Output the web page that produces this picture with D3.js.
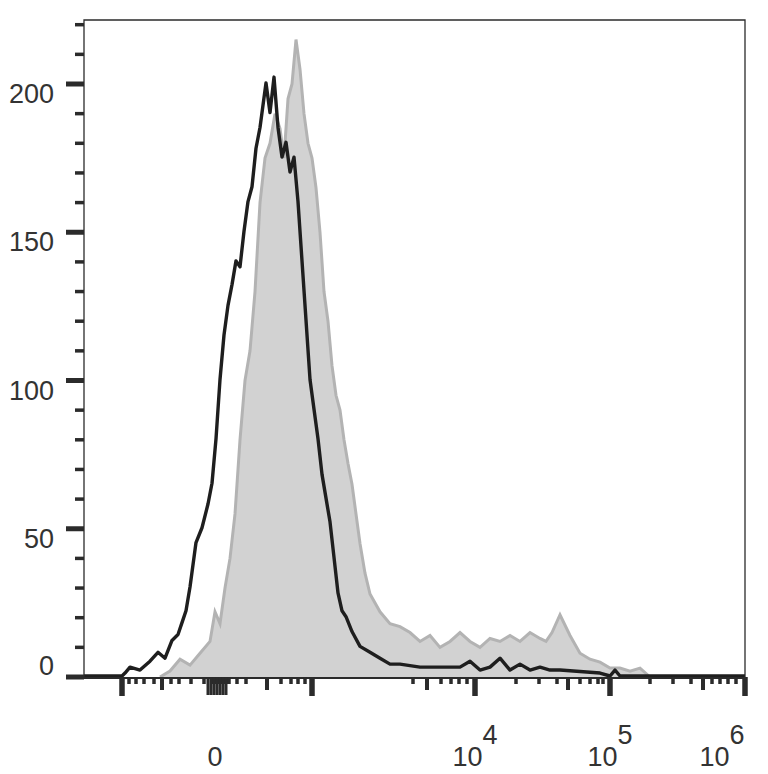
<!DOCTYPE html>
<html><head><meta charset="utf-8">
<script src="https://cdn.jsdelivr.net/npm/d3@7"></script>
<style>body{margin:0;background:#fff}</style>
</head><body>
<svg id="viz" width="768" height="774"></svg>
<script>
// channel positions (0..661 across plot) and event counts
var blackX = [0,38,41,46,56,66,74,81,88,94, 98,102,106,112,118,124,128,132,136,140, 144,148,152,156,160,164,168,172,176,180,
              182,186,190,194,198,202,206,210,214,218, 222,226,230,234,238,242,246,250,254,258, 262,268,276,286,296,306,316,336,356,376,
              386,396,406,416,426,436,446,456,466,476, 516,526,531,536,541,661];
var blackY = [0,0,1,3,2,5,8,6,12,14, 18,22,30,45,50,58,65,80,100,115, 125,132,140,138,150,160,165,178,185,195,
              200,190,202,185,175,180,170,175,160,140, 120,100,90,80,68,60,52,40,28,22, 20,15,10,8,6,4,4,3,3,3,
              5,2,3,6,2,4,2,3,2,2, 1,0,2,0,0,0];
var greyX = [76,86,96,106,116,126,131,136,141,146, 151,156,161,166,171,176,181,186,191,196, 200,204,208,212,216,220,224,228,232,236,
             240,244,248,252,256,260,264,268,272,276, 281,286,296,306,316,326,336,346,356,366, 376,386,396,406,416,426,436,446,456,462,
             468,476,486,496,506,516,526,536,546,556, 566];
var greyY = [0,2,6,4,8,12,22,18,30,40, 55,80,100,110,130,160,175,180,190,185, 175,195,200,215,205,190,180,175,165,150,
             130,120,105,95,90,80,72,65,55,45, 35,28,22,18,17,15,12,14,10,12, 15,12,10,13,12,14,12,15,13,12,
             15,21,14,8,6,5,3,3,2,3, 0];
var yTicks = [0,50,100,150,200];
var xMajor = [38,228,391,526,661];
var xMedium = [78,183,343,484,619];
var xMinor = [45,52,60,70,87,95,107,120,128,131,134,137,140,143,145,153,162,197,207,214,221,329,357,367,375,383,432,455,473,496,506,514,519,566,589,607,628,636,644,652];
var xLabels = [{x:131,t:"0",e:""},{x:391,t:"10",e:"4"},{x:526,t:"10",e:"5"},{x:638,t:"10",e:"6"}];

var m = {left:84, top:20, right:745, bottom:677};
var svg = d3.select("#viz");
var x = d3.scaleLinear().domain([0,661]).range([m.left,m.right]);
var y = d3.scaleLinear().domain([0,200]).range([m.bottom,84]);
var ink = "#2b2b2b";
var font = "Liberation Sans, Arial, sans-serif";

function pairs(xs, ys) { return xs.map(function(v,i){ return [v, ys[i]]; }); }

var grey = pairs(greyX, greyY);
svg.append("path").datum(grey)
    .attr("d", d3.area().x(function(d){return x(d[0]);}).y0(y(0)).y1(function(d){return y(d[1]);}))
    .attr("fill", "#d2d2d2");
svg.append("path").datum(grey)
    .attr("d", d3.line().x(function(d){return x(d[0]);}).y(function(d){return y(d[1]);}))
    .attr("fill", "none").attr("stroke", "#b3b3b3").attr("stroke-width", 3);
svg.append("path").datum(pairs(blackX, blackY))
    .attr("d", d3.line().x(function(d){return x(d[0]);}).y(function(d){return y(d[1]) - 1;}))
    .attr("fill", "none").attr("stroke", "#1e1e1e").attr("stroke-width", 3.4).attr("stroke-linejoin", "round");

// frame
svg.append("path").attr("d", "M" + m.left + "," + m.bottom + "V" + m.top + "H" + m.right + "V" + m.bottom)
    .attr("fill", "none").attr("stroke", ink).attr("stroke-width", 1.3);
svg.append("line").attr("x1", m.left).attr("x2", m.right).attr("y1", m.bottom + 1).attr("y2", m.bottom + 1)
    .attr("stroke", ink).attr("stroke-width", 2);

// y axis
var yMinor = d3.range(0, 221, 10).filter(function(v){ return v % 50 !== 0; });
svg.selectAll(".ymin").data(yMinor).enter().append("line")
    .attr("x1", m.left - 9).attr("x2", m.left).attr("y1", function(d){return y(d);}).attr("y2", function(d){return y(d);})
    .attr("stroke", ink).attr("stroke-width", 3.5);
svg.selectAll(".ymaj").data(yTicks).enter().append("line")
    .attr("x1", m.left - 18).attr("x2", m.left).attr("y1", function(d){return y(d);}).attr("y2", function(d){return y(d);})
    .attr("stroke", ink).attr("stroke-width", 5);
svg.selectAll(".ylab").data(yTicks).enter().append("text")
    .attr("x", 54).attr("y", function(d){return d === 0 ? y(d) - 2 : y(d) + 19;})
    .attr("text-anchor", "end").attr("font-family", font)
    .attr("font-size", 27).attr("fill", "#333").text(function(d){return d;});

// x axis ticks
function xt(list, len, w) {
    svg.append("g").selectAll("line").data(list).enter().append("line")
        .attr("x1", function(d){return x(d);}).attr("x2", function(d){return x(d);})
        .attr("y1", m.bottom).attr("y2", m.bottom + len)
        .attr("stroke", ink).attr("stroke-width", w);
}
xt(xMinor, 7, 3.5);
xt(xMedium, 13, 4);
xt(xMajor, 19, 5.5);
xt([124,127,130,133,136,139,142], 18, 3);

var lab = svg.selectAll(".xlab").data(xLabels).enter().append("text")
    .attr("x", function(d){return x(d.x);}).attr("y", 766)
    .attr("text-anchor", "middle").attr("font-family", font)
    .attr("font-size", 27).attr("fill", "#333");
lab.append("tspan").text(function(d){return d.t;});
lab.append("tspan").attr("dy", -22).text(function(d){return d.e;});
</script>
</body></html>
